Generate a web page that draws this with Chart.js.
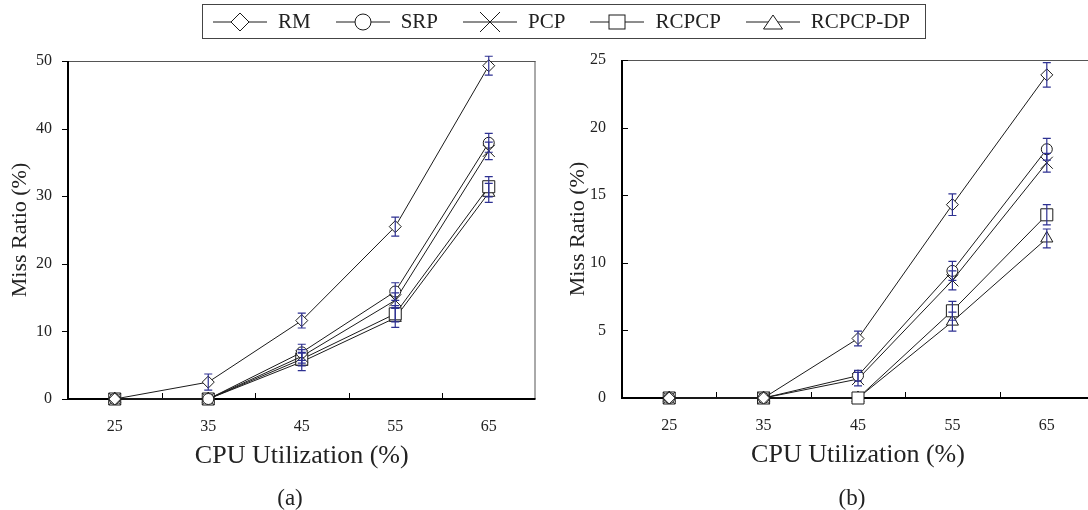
<!DOCTYPE html>
<html>
<head>
<meta charset="utf-8">
<script src="https://cdn.jsdelivr.net/npm/chart.js@4.4.0/dist/chart.umd.min.js"></script>
<style>
  html, body { margin: 0; padding: 0; background: #fff; overflow: hidden; width: 1088px; height: 510px; }
  #wrap { position: relative; width: 1088px; height: 510px; overflow: hidden; }
  canvas { position: absolute; top: 0; }
  #chartA { left: 0; }
  #chartB { left: 545px; }
  #legend {
    position: absolute; left: 202px; top: 4px; width: 724px; height: 35px;
    border: 1px solid #444; display: flex; align-items: center; padding-left: 10px;
    box-sizing: border-box; white-space: nowrap;
    font-family: 'Liberation Serif', 'Times New Roman', serif; font-size: 21px; color: #222;
  }
  #legend .item { display: flex; align-items: center; flex-shrink: 0; margin-right: 25px; }
  #legend .item:last-child { margin-right: 0; }
  #legend svg { display: block; margin-right: 11px; }
  .cap { position: absolute; top: 484px; width: 100px; text-align: center; line-height: 28px;
    font-family: 'Liberation Serif', 'Times New Roman', serif; font-size: 23px; color: #222; }
</style>
</head>
<body>
<div id="wrap">
  <canvas id="chartA" width="545" height="510"></canvas>
  <canvas id="chartB" width="560" height="510"></canvas>
  <div id="legend"></div>
  <div class="cap" style="left:240px">(a)</div>
  <div class="cap" style="left:802px">(b)</div>
</div>
<script>
// categories and series
const categories = ['25', '35', '45', '55', '65'];
const seriesNames = ['RM', 'SRP', 'PCP', 'RCPCP', 'RCPCP-DP'];

// panel (a) miss ratio (%)
const rmA    = [0, 2.5, 11.6, 25.5, 49.3];
const srpA   = [0, 0, 6.9, 15.9, 37.9];
const pcpA   = [0, 0, 6.3, 14.6, 36.7];
const rcpcpA = [0, 0, 5.9, 12.6, 31.4];
const dpA    = [0, 0, 5.5, 12.0, 30.5];
// panel (a) error (+/-)
const rmErrA    = [0, 1.2, 1.1, 1.4, 1.4];
const srpErrA   = [0, 0, 1.2, 1.3, 1.4];
const pcpErrA   = [0, 0, 1.0, 1.1, 1.3];
const rcpcpErrA = [0, 0, 1.0, 1.2, 1.5];
const dpErrA    = [0, 0, 1.3, 1.4, 1.4];

// panel (b) miss ratio (%)
const rmB    = [0, 0, 4.4, 14.3, 23.9];
const srpB   = [0, 0, 1.65, 9.4, 18.4];
const pcpB   = [0, 0, 1.4, 8.7, 17.4];
const rcpcpB = [0, 0, 0, 6.45, 13.55];
const dpB    = [0, 0, 0, 5.65, 11.8];
// panel (b) error (+/-)
const rmErrB    = [0, 0, 0.55, 0.8, 0.9];
const srpErrB   = [0, 0, 0.4, 0.7, 0.8];
const pcpErrB   = [0, 0, 0.5, 0.7, 0.7];
const rcpcpErrB = [0, 0, 0, 0.7, 0.75];
const dpErrB    = [0, 0, 0, 0.7, 0.7];

// y tick labels
const yTicksA = [0, 10, 20, 30, 40, 50];
const yTicksB = [0, 5, 10, 15, 20, 25];

const SERIF = "'Liberation Serif', 'Times New Roman', serif";
const INK = '#222';
const pointStyles = ['rectRot', 'circle', 'crossRot', 'rect', 'triangle'];
const pointRadii = [6, 5.5, 8.5, 8.5, 7];

// box round the plot area plus small tick marks
const frame = {
  id: 'frame',
  beforeDatasetsDraw(chart, args, opts) {
    const { ctx, chartArea: a, scales: { x, y } } = chart;
    ctx.save();
    ctx.strokeStyle = '#555';
    ctx.lineWidth = 1;
    ctx.beginPath();
    ctx.moveTo(a.left, a.top + 0.5); ctx.lineTo(a.right, a.top + 0.5);
    ctx.moveTo(a.right - 0.5, a.top); ctx.lineTo(a.right - 0.5, a.bottom);
    ctx.stroke();

    ctx.strokeStyle = '#000';
    ctx.beginPath();
    y.ticks.forEach(t => {
      const py = Math.round(y.getPixelForValue(t.value)) + 0.5;
      ctx.moveTo(a.left, py);
      ctx.lineTo(a.left + opts.yTickDir * 6, py);
    });
    for (let i = 0; i < categories.length - 1; i++) {
      const px = Math.round((x.getPixelForValue(i) + x.getPixelForValue(i + 1)) / 2) + 0.5;
      ctx.moveTo(px, a.bottom);
      ctx.lineTo(px, a.bottom - 6);
    }
    ctx.stroke();

    ctx.lineWidth = 2;
    ctx.beginPath();
    ctx.moveTo(a.left, a.top);
    ctx.lineTo(a.left, a.bottom);
    ctx.lineTo(a.right, a.bottom);
    ctx.stroke();
    ctx.restore();
  }
};

// vertical error bars
const errorBars = {
  id: 'errorBars',
  afterDatasetsDraw(chart) {
    const { ctx, scales: { y } } = chart;
    ctx.save();
    ctx.strokeStyle = '#2e3192';
    ctx.lineWidth = 1.2;
    chart.data.datasets.forEach((ds, k) => {
      const meta = chart.getDatasetMeta(k);
      ds.errors.forEach((e, i) => {
        if (!e) return;
        const px = meta.data[i].x;
        const top = y.getPixelForValue(ds.data[i] + e);
        const bot = y.getPixelForValue(ds.data[i] - e);
        ctx.beginPath();
        ctx.moveTo(px, top); ctx.lineTo(px, bot);
        ctx.moveTo(px - 4, top); ctx.lineTo(px + 4, top);
        ctx.moveTo(px - 4, bot); ctx.lineTo(px + 4, bot);
        ctx.stroke();
      });
    });
    ctx.restore();
  }
};

function makeChart(id, values, errors, yTicks, geo) {
  return new Chart(document.getElementById(id), {
    type: 'line',
    data: {
      labels: categories,
      datasets: seriesNames.map((name, k) => ({
        label: name,
        data: values[k],
        errors: errors[k],
        borderColor: '#1a1a1a',
        borderWidth: 1,
        pointStyle: pointStyles[k],
        pointRadius: pointRadii[k],
        pointBackgroundColor: '#fff',
        pointBorderColor: '#1a1a1a',
        pointBorderWidth: 1,
        tension: 0,
        clip: false
      }))
    },
    options: {
      responsive: false,
      animation: false,
      events: [],
      layout: { padding: { top: geo.top, right: geo.right, bottom: geo.bottom, left: 0 } },
      plugins: {
        legend: { display: false },
        tooltip: { enabled: false },
        frame: { yTickDir: geo.yTickDir }
      },
      scales: {
        x: {
          offset: true,
          grid: { display: false, drawTicks: false },
          border: { display: false },
          ticks: { font: { family: SERIF, size: 16 }, color: INK, padding: 18 },
          title: {
            display: true, text: 'CPU Utilization (%)', color: INK,
            font: { family: SERIF, size: 26 }, padding: { top: 0, bottom: 7 }
          },
          afterFit: s => { s.height = 80; }
        },
        y: {
          min: yTicks[0],
          max: yTicks[yTicks.length - 1],
          ticks: { stepSize: yTicks[1] - yTicks[0], font: { family: SERIF, size: 16 }, color: INK, padding: 16 },
          grid: { display: false, drawTicks: false },
          border: { display: false },
          title: {
            display: true, text: 'Miss Ratio (%)', color: INK,
            font: { family: SERIF, size: 22 }, padding: { top: geo.titlePad, bottom: 0 }
          },
          afterFit: s => { s.width = geo.yWidth; }
        }
      }
    },
    plugins: [frame, errorBars]
  });
}

makeChart('chartA',
  [rmA, srpA, pcpA, rcpcpA, dpA],
  [rmErrA, srpErrA, pcpErrA, rcpcpErrA, dpErrA],
  yTicksA,
  { top: 61, right: 5, bottom: 31, yWidth: 68, titlePad: 7, yTickDir: -1 });

makeChart('chartB',
  [rmB, srpB, pcpB, rcpcpB, dpB],
  [rmErrB, srpErrB, pcpErrB, rcpcpErrB, dpErrB],
  yTicksB,
  { top: 60, right: 11, bottom: 32, yWidth: 77, titlePad: 20, yTickDir: 1 });

// legend: line with marker, then name
const NS = 'http://www.w3.org/2000/svg';
function marker(svg, style) {
  const stroke = 'stroke="#1a1a1a" stroke-width="1" fill="#fff"';
  const shapes = {
    rectRot: `<polygon points="18,12 27,3 36,12 27,21" ${stroke}/>`,
    circle: `<circle cx="27" cy="12" r="8" ${stroke}/>`,
    crossRot: `<path d="M17,2 L37,22 M37,2 L17,22" stroke="#1a1a1a" stroke-width="1"/>`,
    rect: `<rect x="19" y="5" width="16" height="14" ${stroke}/>`,
    triangle: `<polygon points="17.5,19 27,5 36.5,19" ${stroke}/>`
  };
  svg.innerHTML = `<line x1="0" y1="12" x2="54" y2="12" stroke="#1a1a1a" stroke-width="1"/>` + shapes[style];
}
const legend = document.getElementById('legend');
seriesNames.forEach((name, k) => {
  const item = document.createElement('div');
  item.className = 'item';
  const svg = document.createElementNS(NS, 'svg');
  svg.setAttribute('width', '54');
  svg.setAttribute('height', '24');
  marker(svg, pointStyles[k]);
  const label = document.createElement('span');
  label.textContent = name;
  item.appendChild(svg);
  item.appendChild(label);
  legend.appendChild(item);
});
</script>
</body>
</html>
